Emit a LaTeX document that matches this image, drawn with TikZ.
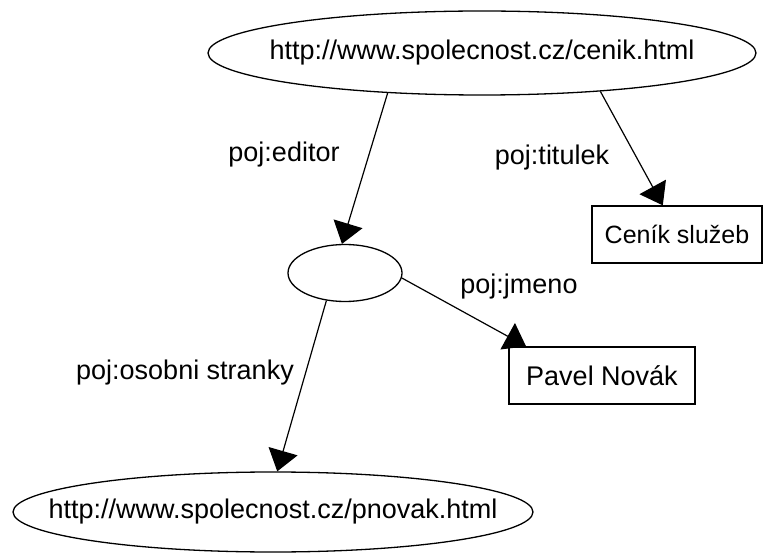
\documentclass[tikz,border=0pt]{standalone}
\usepackage{fontspec}
\setmainfont{Liberation Sans}
\usetikzlibrary{shapes.geometric,arrows.meta}
\begin{document}
\begin{tikzpicture}[x=1pt,y=-1pt,
  every node/.style={font=\fontsize{27}{31}\selectfont},
  res/.style={draw,ellipse,line width=1.3pt,inner sep=0pt},
  lit/.style={draw,rectangle,line width=1.3pt,inner sep=0pt},
  lbl/.style={inner sep=0pt},
  rel/.style={line width=1.2pt,-{Triangle[length=21pt,width=30pt]}}]
\useasboundingbox[fill=white] (0,0) rectangle (763,553);
\node[res,minimum width=548pt,minimum height=84pt] (top) at (482,53) {\makebox[0pt]{http://www.spolecnost.cz/cenik.html}};
\node[res,minimum width=114pt,minimum height=57pt] (mid) at (345,273) {};
\node[res,minimum width=520pt,minimum height=80pt] (bot) at (273,512) {\makebox[0pt]{http://www.spolecnost.cz/pnovak.html}};
\node[lit,minimum width=170pt,minimum height=57pt,font=\fontsize{25}{29}\selectfont] (cen) at (677,234.5) {Ceník služeb};
\node[lit,minimum width=186pt,minimum height=57pt] (pav) at (602,375.5) {Pavel Novák};
\node[lbl] (led) at (284,155) {poj:editor};
\node[lbl] (lti) at (552,158) {poj:titulek};
\node[lbl] (ljm) at (519,287) {poj:jmeno};
\node[lbl] (los) at (185,373) {poj:osobni stranky};
\draw[rel] (top.203) -- (mid.96);
\draw[rel] (top.342) -- (cen.116);
\draw[rel] (mid.-5) -- (pav.159);
\draw[rel] (mid.236) -- (bot.84);
\end{tikzpicture}
\end{document}
